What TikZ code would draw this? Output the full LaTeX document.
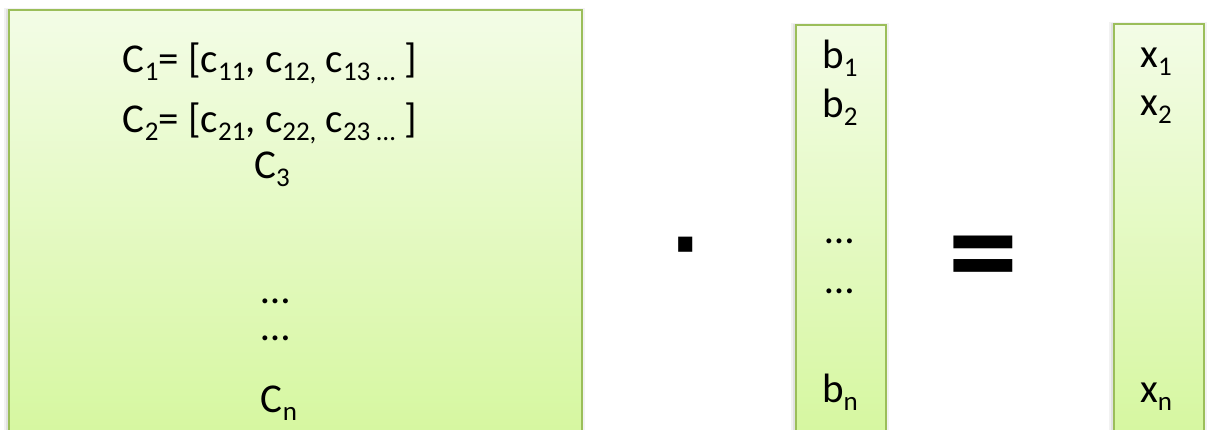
\documentclass[tikz,border=0pt]{standalone}
\usepackage{fontspec}
\setmainfont{Carlito}
\newfontfamily\dotfont{DejaVu Sans}
\definecolor{boxtop}{RGB}{243,252,230}
\definecolor{boxbot}{RGB}{213,247,158}
\definecolor{boxedge}{RGB}{155,190,90}
\newcommand{\subfont}{\fontsize{27}{27}\selectfont}
\newcommand{\sbs}[1]{\raisebox{-0.2em}{\subfont #1}}
\tikzset{
  mbox/.style={draw=boxedge, line width=2pt, top color=boxtop, bottom color=boxbot,
    inner sep=0pt, anchor=north west},
  lbl/.style={inner sep=0pt, anchor=base, font=\fontsize{41}{48}\selectfont},
  op/.style={inner sep=0pt, anchor=base, font=\fontsize{140}{150}\selectfont\bfseries},
}
\begin{document}
\begin{tikzpicture}[x=1pt,y=-1pt]
\useasboundingbox (0,0) rectangle (1209,429);
% soft shadows
\foreach \l/\r/\t in {8/581/9, 795/885/24, 1113/1203/23}{
  \fill[black, opacity=0.05] (\l-4,\t-1) rectangle (\r+4,450);
  \fill[black, opacity=0.07] (\l-2,\t) rectangle (\r+2,450);
}
\node (A) [mbox, minimum width=573pt, minimum height=436pt] at (8,9) {};
\node (B) [mbox, minimum width=90pt, minimum height=421pt] at (795,24) {};
\node (X) [mbox, minimum width=90pt, minimum height=422pt] at (1113,23) {};
% matrix rows
\node (c1) [lbl] at (270,72) {C\sbs{1}= [c\sbs{11}, c\sbs{12,} c\sbs{13 …} ]};
\node (c2) [lbl] at (270,132) {C\sbs{2}= [c\sbs{21}, c\sbs{22,} c\sbs{23 …} ]};
\node (c3) [lbl] at (272,178) {C\sbs{3}};
\node (cd1) [lbl] at (276,303) {…};
\node (cd2) [lbl] at (276,340) {…};
\node (cn) [lbl] at (279,412) {C\sbs{n}};
% b vector
\node (b1) [lbl] at (840,68) {b\sbs{1}};
\node (b2) [lbl] at (840,117) {b\sbs{2}};
\node (bd1) [lbl] at (840,243) {…};
\node (bd2) [lbl] at (840,293) {…};
\node (bn) [lbl] at (840,402) {b\sbs{n}};
% x vector
\node (x1) [lbl] at (1156,67) {x\sbs{1}};
\node (x2) [lbl] at (1156,115) {x\sbs{2}};
\node (xn) [lbl] at (1156,402) {x\sbs{n}};
% operators
\node (dot) [inner sep=0pt, anchor=base, font=\dotfont\bfseries\fontsize{80}{90}\selectfont] at (686,272) {·};
\node (eq) [op] at (983,298) {=};
\end{tikzpicture}
\end{document}
